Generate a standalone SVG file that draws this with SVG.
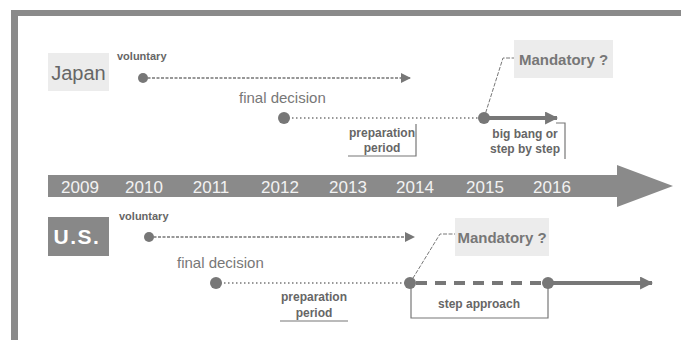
<svg xmlns="http://www.w3.org/2000/svg" width="681" height="340" viewBox="0 0 681 340">
  <defs>
    <marker id="ah-small" viewBox="0 0 10 10" refX="9" refY="5" markerWidth="10" markerHeight="10" markerUnits="userSpaceOnUse" orient="auto">
      <path d="M0,0 L10,5 L0,10 Z" fill="#777"/>
    </marker>
    <marker id="ah-big" viewBox="0 0 12 12" refX="11" refY="6" markerWidth="13" markerHeight="13" markerUnits="userSpaceOnUse" orient="auto">
      <path d="M0,0 L12,6 L0,12 Z" fill="#777"/>
    </marker>
  </defs>
  <style>
    text { font-family: "Liberation Sans", Arial, sans-serif; }
    .frame { fill: #8a8a8a; }
    .lbl-s { font-size: 11px; font-weight: bold; fill: #666; }
    .lbl-m { font-size: 15px; fill: #777; }
    .lbl-b { font-size: 12px; font-weight: bold; fill: #666; }
    .mand { font-size: 15px; font-weight: bold; fill: #777; }
    .year { font-size: 17px; fill: #f2f2f2; text-anchor: middle; }
    .dot { fill: #777; }
    .thin-dot { stroke: #777; stroke-width: 1.6; stroke-dasharray: 3 1.5; fill: none; }
    .fine-dot { stroke: #777; stroke-width: 1.4; stroke-dasharray: 1.5 2.5; fill: none; }
    .lead { stroke: #777; stroke-width: 1; stroke-dasharray: 4 1.5; fill: none; }
    .thick { stroke: #777; stroke-width: 4; fill: none; }
    .bracket { stroke: #777; stroke-width: 1.2; fill: none; }
  </style>

  <!-- frame -->
  <rect class="frame" x="11" y="10" width="670" height="6"/>
  <rect class="frame" x="11" y="10" width="7" height="330"/>

  <!-- timeline -->
  <g id="timeline">
    <path d="M48,175 L617,175 L617,165 L673,186 L617,207 L617,197 L48,197 Z" fill="#8a8a8a"/>
    <text class="year" x="80" y="193">2009</text>
    <text class="year" x="144" y="193">2010</text>
    <text class="year" x="211" y="193">2011</text>
    <text class="year" x="280" y="193">2012</text>
    <text class="year" x="348" y="193">2013</text>
    <text class="year" x="415" y="193">2014</text>
    <text class="year" x="485" y="193">2015</text>
    <text class="year" x="552" y="193">2016</text>
  </g>

  <!-- connectors -->
  <g id="connectors">
    <!-- Japan -->
    <line class="thin-dot" x1="143" y1="78" x2="410" y2="78" marker-end="url(#ah-small)"/>
    <line class="fine-dot" x1="284" y1="118" x2="484" y2="118"/>
    <line class="thick" x1="484" y1="118" x2="557" y2="118" marker-end="url(#ah-big)"/>
    <polyline class="lead" points="484,118 503,58 514,58"/>
    <polyline class="bracket" points="348,156 416,156 416,124"/>
    <polyline class="bracket" points="556,123 565,123 565,159"/>
    <!-- U.S. -->
    <line class="thin-dot" x1="149" y1="237" x2="414" y2="237" marker-end="url(#ah-small)"/>
    <line class="fine-dot" x1="216" y1="283" x2="410" y2="283"/>
    <line class="thick" x1="416" y1="283" x2="548" y2="283" stroke-dasharray="11 8"/>
    <line class="thick" x1="548" y1="283" x2="652" y2="283" marker-end="url(#ah-big)"/>
    <polyline class="lead" points="410,283 440,234 455,234"/>
    <polyline class="bracket" points="411,283 411,318 548,318 548,283"/>
    <line class="bracket" x1="280" y1="321" x2="348" y2="321"/>
  </g>

  <!-- Japan -->
  <g id="japan-label">
    <rect x="48" y="53" width="61" height="38" fill="#ececec"/>
    <text x="78.5" y="80" font-size="20" fill="#666" text-anchor="middle">Japan</text>
  </g>
  <g id="japan-voluntary">
    <circle class="dot" cx="143" cy="78" r="5"/>
    <text class="lbl-s" x="117" y="60">voluntary</text>
  </g>
  <g id="japan-final-decision">
    <circle class="dot" cx="284" cy="118" r="6"/>
    <text class="lbl-m" x="239" y="103">final decision</text>
  </g>
  <g id="japan-preparation">
    <text class="lbl-b" x="382" y="137" text-anchor="middle" font-size="11">preparation</text>
    <text class="lbl-b" x="382" y="152" text-anchor="middle" font-size="11">period</text>
  </g>
  <g id="japan-2015">
    <circle class="dot" cx="484" cy="118" r="6"/>
    <text class="lbl-b" x="525" y="138" text-anchor="middle">big bang or</text>
    <text class="lbl-b" x="525" y="153" text-anchor="middle">step by step</text>
  </g>
  <g id="japan-mandatory">
    <rect x="514" y="40" width="99" height="38" fill="#ececec"/>
    <text class="mand" x="563.5" y="65" text-anchor="middle">Mandatory ?</text>
  </g>

  <!-- U.S. -->
  <g id="us-label">
    <rect x="48" y="217" width="61" height="39" fill="#888"/>
    <text x="77" y="244" font-size="21" font-weight="bold" fill="#fff" text-anchor="middle" letter-spacing="1.5">U.S.</text>
  </g>
  <g id="us-voluntary">
    <circle class="dot" cx="149" cy="237" r="5"/>
    <text class="lbl-s" x="119" y="220">voluntary</text>
  </g>
  <g id="us-final-decision">
    <circle class="dot" cx="216" cy="283" r="6"/>
    <text class="lbl-m" x="177" y="268">final decision</text>
  </g>
  <g id="us-preparation">
    <text class="lbl-b" x="314" y="301" text-anchor="middle" font-size="11">preparation</text>
    <text class="lbl-b" x="314" y="317" text-anchor="middle" font-size="11">period</text>
  </g>
  <g id="us-2014">
    <circle class="dot" cx="410" cy="283" r="6"/>
  </g>
  <g id="us-step-approach">
    <circle class="dot" cx="548" cy="283" r="6"/>
    <text class="lbl-b" x="479" y="308" text-anchor="middle" font-size="13">step approach</text>
  </g>
  <g id="us-mandatory">
    <rect x="455" y="218" width="94" height="38" fill="#ececec"/>
    <text class="mand" x="502" y="243" text-anchor="middle">Mandatory ?</text>
  </g>
</svg>
